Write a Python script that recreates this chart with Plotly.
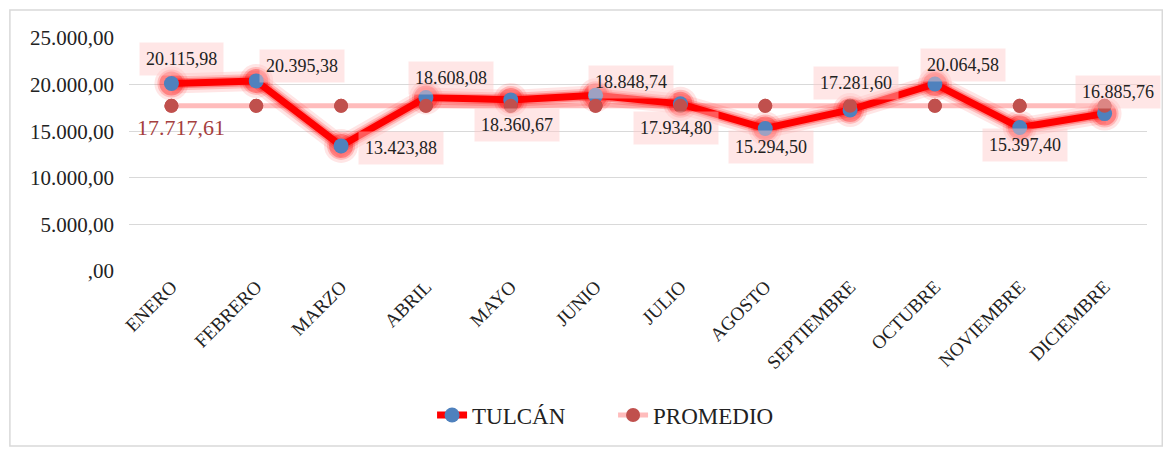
import plotly.graph_objects as go

months = ["ENERO", "FEBRERO", "MARZO", "ABRIL", "MAYO", "JUNIO", "JULIO",
          "AGOSTO", "SEPTIEMBRE", "OCTUBRE", "NOVIEMBRE", "DICIEMBRE"]
tulcan = [20115.98, 20395.38, 13423.88, 18608.08, 18360.67, 18848.74, 17934.80,
          15294.50, 17281.60, 20064.58, 15397.40, 16885.76]
promedio_val = 17717.61
promedio = [promedio_val] * len(months)
tulcan_labels = ["20.115,98", "20.395,38", "13.423,88", "18.608,08", "18.360,67", "18.848,74",
                 "17.934,80", "15.294,50", "17.281,60", "20.064,58", "15.397,40", "16.885,76"]
promedio_label = "17.717,61"
ytick_vals = [0, 5000, 10000, 15000, 20000, 25000]
ytick_text = [",00", "5.000,00", "10.000,00", "15.000,00", "20.000,00", "25.000,00"]

label_shift = [(10, 25), (46, 15), (60, -2), (25, 20), (6, -25), (35, 13), (-4, -24),
               (6, -19), (6, 27), (28, 19), (5, -17), (13, 22)]

FONT = "Liberation Serif"

fig = go.Figure()

fig.add_trace(go.Scatter(
    x=months, y=promedio, mode="lines+markers", name="PROMEDIO",
    line=dict(color="rgba(255,165,165,0.75)", width=5),
    marker=dict(color="#c0504d", size=14),
    legendrank=2, hoverinfo="skip"))

for w, a in [(20, 0.10), (14, 0.18), (10, 0.3)]:
    fig.add_trace(go.Scatter(
        x=months, y=tulcan, mode="lines+markers", showlegend=False,
        line=dict(color=f"rgba(255,0,0,{a})", width=w),
        marker=dict(color=f"rgba(255,0,0,{a})", size=14 + w),
        hoverinfo="skip"))

fig.add_trace(go.Scatter(
    x=months, y=tulcan, mode="lines+markers", name="TULCÁN",
    line=dict(color="#ff0000", width=7),
    marker=dict(color="#4f81bd", size=15),
    legendrank=1, hoverinfo="skip"))

fig.add_trace(go.Scatter(
    x=months, y=promedio, mode="markers", showlegend=False,
    marker=dict(color="#c0504d", size=14), hoverinfo="skip"))

for m, v, t, (dx, dy) in zip(months, tulcan, tulcan_labels, label_shift):
    fig.add_annotation(x=m, y=v, text=t, showarrow=False, xshift=dx, yshift=dy,
                       font=dict(family=FONT, size=18, color="#222222"),
                       bgcolor="rgba(255,200,200,0.45)", borderpad=6)

fig.add_annotation(x=months[0], y=promedio_val, text=promedio_label, showarrow=False,
                   xshift=10, yshift=-22,
                   font=dict(family=FONT, size=22, color="#a5403e"))

fig.add_shape(type="rect", xref="paper", yref="paper", x0=-0.117, x1=1.015, y0=-0.751, y1=1.12,
              line=dict(color="#d9d9d9", width=1.5), fillcolor="rgba(0,0,0,0)", layer="below")

fig.update_layout(
    width=1165, height=441,
    margin=dict(l=121, r=26, t=30, b=178),
    paper_bgcolor="white", plot_bgcolor="white",
    font=dict(family=FONT, color="#222222"),
    showlegend=True,
    legend=dict(orientation="h", x=0.2977, xanchor="left", y=-0.618, yanchor="middle",
                font=dict(family=FONT, size=23, color="#222222"),
                traceorder="normal", entrywidth=136),
    hovermode=False,
)
fig.update_xaxes(range=[-0.5, 11.5], showgrid=False, tickangle=-45, showline=False, ticks="",
                 tickfont=dict(family=FONT, size=19, color="#222222"))
fig.update_yaxes(range=[0, 25000], tickvals=ytick_vals, ticktext=ytick_text,
                 showgrid=True, gridcolor="#d9d9d9", gridwidth=1, zeroline=False,
                 tickfont=dict(family=FONT, size=21, color="#222222"), ticklabelstandoff=14)

fig.write_html("out.html")
